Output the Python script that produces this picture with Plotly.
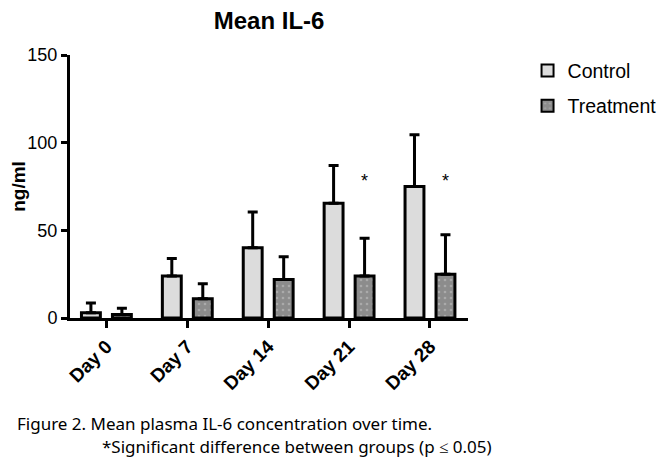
import plotly.graph_objects as go

days = ["Day 0", "Day 7", "Day 14", "Day 21", "Day 28"]
control = [3, 24, 40, 65.5, 75]
control_err = [5.5, 10, 20.5, 21.5, 29.5]
treatment = [2, 11, 22, 24, 25]
treatment_err = [3.5, 8.5, 13, 21.5, 22.5]
significant = [False, False, False, True, True]

AX = "Liberation Sans"

fig = go.Figure()

fig.add_trace(go.Bar(
    x=days, y=control, name="Control", legendgroup="c",
    marker=dict(color="#dcdcdc", line=dict(color="black", width=3)),
    error_y=dict(type="data", array=control_err, arrayminus=[0] * 5,
                 color="black", thickness=3, width=5),
))
fig.add_trace(go.Bar(
    x=days, y=treatment, name="Treatment", legendgroup="t",
    marker=dict(color="#8c8c8c", line=dict(color="black", width=3),
                pattern=dict(shape=".", fgcolor="#c8c8c8", size=6, solidity=0.15)),
    error_y=dict(type="data", array=treatment_err, arrayminus=[0] * 5,
                 color="black", thickness=3, width=5),
))

# asterisks over the treatment bars that differ
for i, (d, s) in enumerate(zip(days, significant)):
    if s:
        fig.add_annotation(x=i, y=78, text="*", showarrow=False, xshift=15.5,
                           font=dict(family=AX, size=18, color="black"))

# page body has an 8px margin, so the figure is 8px smaller than the window
fig.update_layout(
    width=661, height=456,
    margin=dict(l=62, r=201, t=47, b=146, autoexpand=False),
    plot_bgcolor="white", paper_bgcolor="white",
    barmode="group", bargap=0.234, bargroupgap=0.39,
    title=dict(text="<b>Mean IL-6</b>", x=0.395, xanchor="center",
               y=0.99, yanchor="top",
               font=dict(family=AX, size=24, color="black")),
    legend=dict(xref="container", yref="container", x=0.786, y=0.905,
                xanchor="left", yanchor="top",
                font=dict(family=AX, size=19.5, color="black"),
                tracegroupgap=7, itemsizing="constant"),
    font=dict(family=AX, color="black"),
)

fig.update_xaxes(
    range=[-0.45, 4.47], showline=True, linecolor="black", linewidth=3,
    ticks="outside", ticklen=7, tickwidth=3, tickcolor="black",
    tickangle=-45, tickfont=dict(family=AX, size=19, color="black"),
    tickprefix="<b>", ticksuffix="</b>", automargin=False,
)
fig.update_yaxes(
    range=[0, 150], tickvals=[0, 50, 100, 150], showline=True, linecolor="black",
    linewidth=3, ticks="outside", ticklen=6, tickwidth=3, tickcolor="black",
    showgrid=False, zeroline=False, automargin=False,
    tickfont=dict(family=AX, size=18, color="black"),
    tickprefix="<b>", ticksuffix="</b>",
    title=dict(text="<b>ng/ml</b>", font=dict(family=AX, size=19, color="black"), standoff=4),
)

fig.add_annotation(xref="paper", yref="paper", x=-0.138, y=-0.403, xanchor="left", yanchor="middle",
                   text="Figure 2. Mean plasma IL-6 concentration over time.", showarrow=False,
                   font=dict(family="Noto Sans", size=17, color="black"))
fig.add_annotation(xref="paper", yref="paper", x=0.075, y=-0.487, xanchor="left", yanchor="middle",
                   text="*Significant difference between groups (p ≤ 0.05)", showarrow=False,
                   font=dict(family="Noto Sans", size=17, color="black"))

fig.write_html("out.html")
